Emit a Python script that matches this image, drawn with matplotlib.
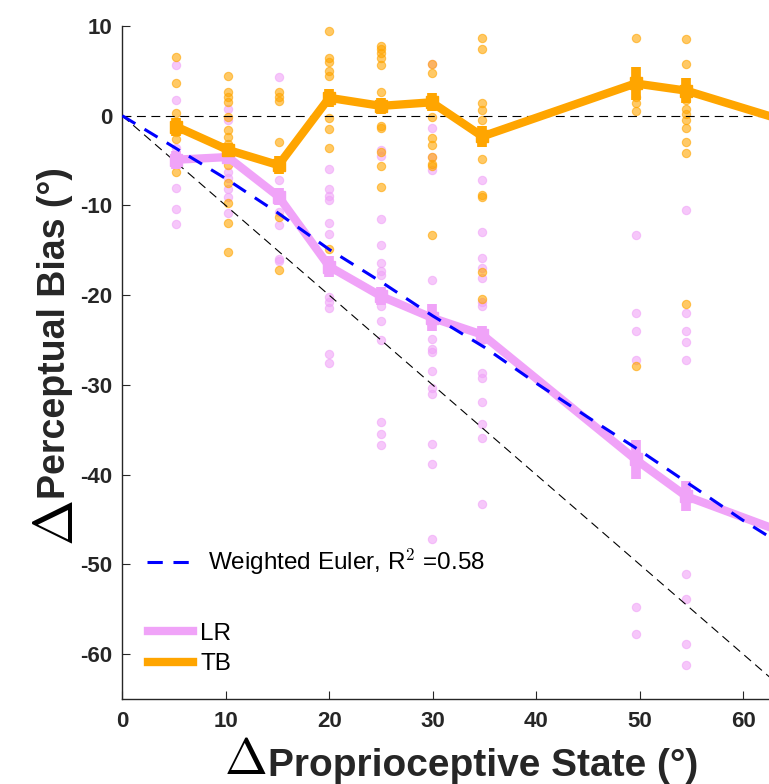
import numpy as np
import matplotlib
matplotlib.use("Agg")
import matplotlib.pyplot as plt
from matplotlib.lines import Line2D

plt.rcParams['font.family'] = ['Liberation Sans', 'DejaVu Sans']
plt.rcParams['axes.unicode_minus'] = False
plt.rcParams['mathtext.fontset'] = 'cm'

# ---- data ----
cond_x = [5.2, 10.2, 15.1, 20.0, 25.0, 29.9, 34.8, 49.6, 54.5]

# individual participants, per condition
lr_points = [
    [5.7, 1.8, -3.6, -5.0, -8.1, -10.4, -12.1],
    [0.7, -0.5, -4.7, -6.3, -6.9, -8.2, -9.0, -10.8],
    [4.3, -7.2, -10.7, -12.2, -16.0, -16.2],
    [-5.9, -8.2, -8.9, -9.4, -12.0, -13.2, -20.2, -20.7, -21.4, -26.6, -27.6],
    [-3.8, -4.5, -11.5, -14.4, -16.4, -17.3, -17.8, -21.2, -22.9, -25.0, -34.1, -35.5, -36.7],
    [5.8, -1.4, -4.6, -6.1, -18.3, -24.9, -26.0, -26.3, -28.4, -30.3, -31.0, -36.6, -38.8, -47.2],
    [-7.2, -12.9, -15.8, -17.0, -18.1, -20.8, -21.2, -25.0, -28.7, -29.2, -31.9, -34.4, -35.9, -43.3],
    [-13.3, -22.0, -24.0, -27.2, -54.8, -57.7],
    [-10.5, -22.0, -24.0, -25.2, -27.2, -51.1, -53.9, -58.9, -61.2],
]
tb_points = [
    [6.6, 3.7, 0.3, -0.8, -1.8, -2.6, -6.3],
    [4.4, 2.6, 2.1, 1.5, -0.1, -1.6, -2.4, -3.2, -5.5, -7.5, -9.7, -11.9, -15.2],
    [2.6, 2.1, 1.6, -2.9, -11.3, -17.2],
    [9.4, 6.4, 6.0, 5.0, 4.4, -0.2, -1.5, -3.6, -14.8],
    [7.8, 7.4, 7.0, 6.4, 5.7, 2.6, -1.1, -1.4, -4.0, -5.6, -7.9],
    [5.8, 4.8, -0.1, -2.5, -3.3, -4.6, -5.4, -5.6, -13.3],
    [8.7, 7.4, 1.4, 0.6, -0.5, -4.8, -8.8, -9.1, -17.4, -20.4],
    [8.7, 2.1, 1.4, 0.5, -27.9],
    [8.6, 5.8, 1.8, 0.8, 0.2, -0.5, -1.4, -2.9, -4.2, -21.0],
]

# group means (last point lies past the visible x range)
line_x = cond_x + [65.0]
lr_mean = [-4.9, -4.6, -9.0, -16.8, -20.1, -22.5, -24.4, -38.3, -42.4, -46.9]
tb_mean = [-1.2, -3.8, -5.5, 2.0, 1.1, 1.5, -2.3, 3.6, 2.8, -0.9]
lr_err = [1.0, 0.8, 1.0, 1.2, 1.0, 1.5, 1.0, 2.2, 1.7, 0.0]
tb_err = [1.0, 0.8, 1.0, 1.0, 0.9, 1.0, 1.2, 1.8, 1.4, 0.0]

# weighted Euler model
euler_x = [0, 5, 10, 15, 20, 25, 30, 35, 40, 45, 50, 55, 60, 65]
euler_y = [0, -3.5, -7.0, -10.8, -14.9, -18.5, -22.3, -25.8, -29.8, -33.6, -37.3, -41.2, -45.1, -48.7]

pink = '#F0A3F8'
orange = '#FFA500'
dark = '#262626'

fig = plt.figure(figsize=(7.69, 7.84), dpi=100)
ax = fig.add_axes([0.159, 0.1084, 0.841, 0.8584])

for xi, pts in zip(cond_x, lr_points):
    ax.scatter([xi] * len(pts), pts, s=36, color=pink, alpha=0.6,
               edgecolors=pink, linewidths=0.8, zorder=2)
for xi, pts in zip(cond_x, tb_points):
    ax.scatter([xi] * len(pts), pts, s=36, color=orange, alpha=0.6,
               edgecolors=orange, linewidths=0.8, zorder=2)

# reference lines
ax.plot([0, 65], [0, 0], '--', color='black', lw=0.8, dashes=(8, 5), zorder=3)
ax.plot([0, 65], [0, -65], '--', color='black', lw=0.8, dashes=(8, 5), zorder=3)

ax.errorbar(line_x, lr_mean, yerr=lr_err, color=pink, lw=6, elinewidth=7,
            marker='s', ms=8, capsize=0, zorder=4)
ax.errorbar(line_x, tb_mean, yerr=tb_err, color=orange, lw=6, elinewidth=7,
            marker='s', ms=8, capsize=0, zorder=5)
ax.plot(euler_x, euler_y, '--', color='#0000FF', lw=2.2, dashes=(5, 3.5), zorder=6)

ax.set_xlim(0, 62.5)
ax.set_ylim(-65, 10)
ax.set_xticks([0, 10, 20, 30, 40, 50, 60])
ax.set_yticks([-60, -50, -40, -30, -20, -10, 0, 10])
ax.spines['top'].set_visible(False)
ax.spines['right'].set_visible(False)
for s in ['left', 'bottom']:
    ax.spines[s].set_color(dark)
    ax.spines[s].set_linewidth(1.0)
ax.tick_params(direction='in', length=6, width=0.8, color=dark, labelsize=16)
ax.tick_params(axis='x', pad=8.5)
ax.tick_params(axis='y', pad=7)
for lab in ax.get_xticklabels() + ax.get_yticklabels():
    lab.set_fontweight('bold')
    lab.set_color(dark)

# axis labels with large delta
fig.text(0.0765, 0.333, r'$\Delta$', fontsize=40, rotation=90, ha='center', va='center')
fig.text(0.0715, 0.575, 'Perceptual Bias (°)', fontsize=27, fontweight='bold',
         rotation=90, ha='center', va='center', color=dark)
fig.text(0.3186, 0.0306, r'$\Delta$', fontsize=37, ha='center', va='center')
fig.text(0.6287, 0.0102, 'Proprioceptive State (°)', fontsize=28, fontweight='bold',
         ha='center', va='baseline', color=dark)

# legends
h1 = [Line2D([], [], color='#0000FF', ls='--', lw=2.2, dashes=(5, 3.5))]
leg1 = ax.legend(h1, [r'Weighted Euler, R$^{\mathsf{2}}$ =0.58'], loc='upper left',
                 bbox_to_anchor=(0.038, 0.226), frameon=False, borderpad=0,
                 borderaxespad=0, handlelength=1.9, handletextpad=0.6,
                 prop={'family': 'Liberation Sans', 'size': 17.5})
ax.add_artist(leg1)
h2 = [Line2D([], [], color=pink, lw=6), Line2D([], [], color=orange, lw=6)]
ax.legend(h2, ['LR', 'TB'], loc='upper left', bbox_to_anchor=(0.04, 0.113),
          frameon=False, borderpad=0, borderaxespad=0, handlelength=1.85,
          handletextpad=0.3, labelspacing=0.33,
          prop={'family': 'Liberation Sans', 'size': 17.5})

fig.savefig('out.png', dpi=100)
